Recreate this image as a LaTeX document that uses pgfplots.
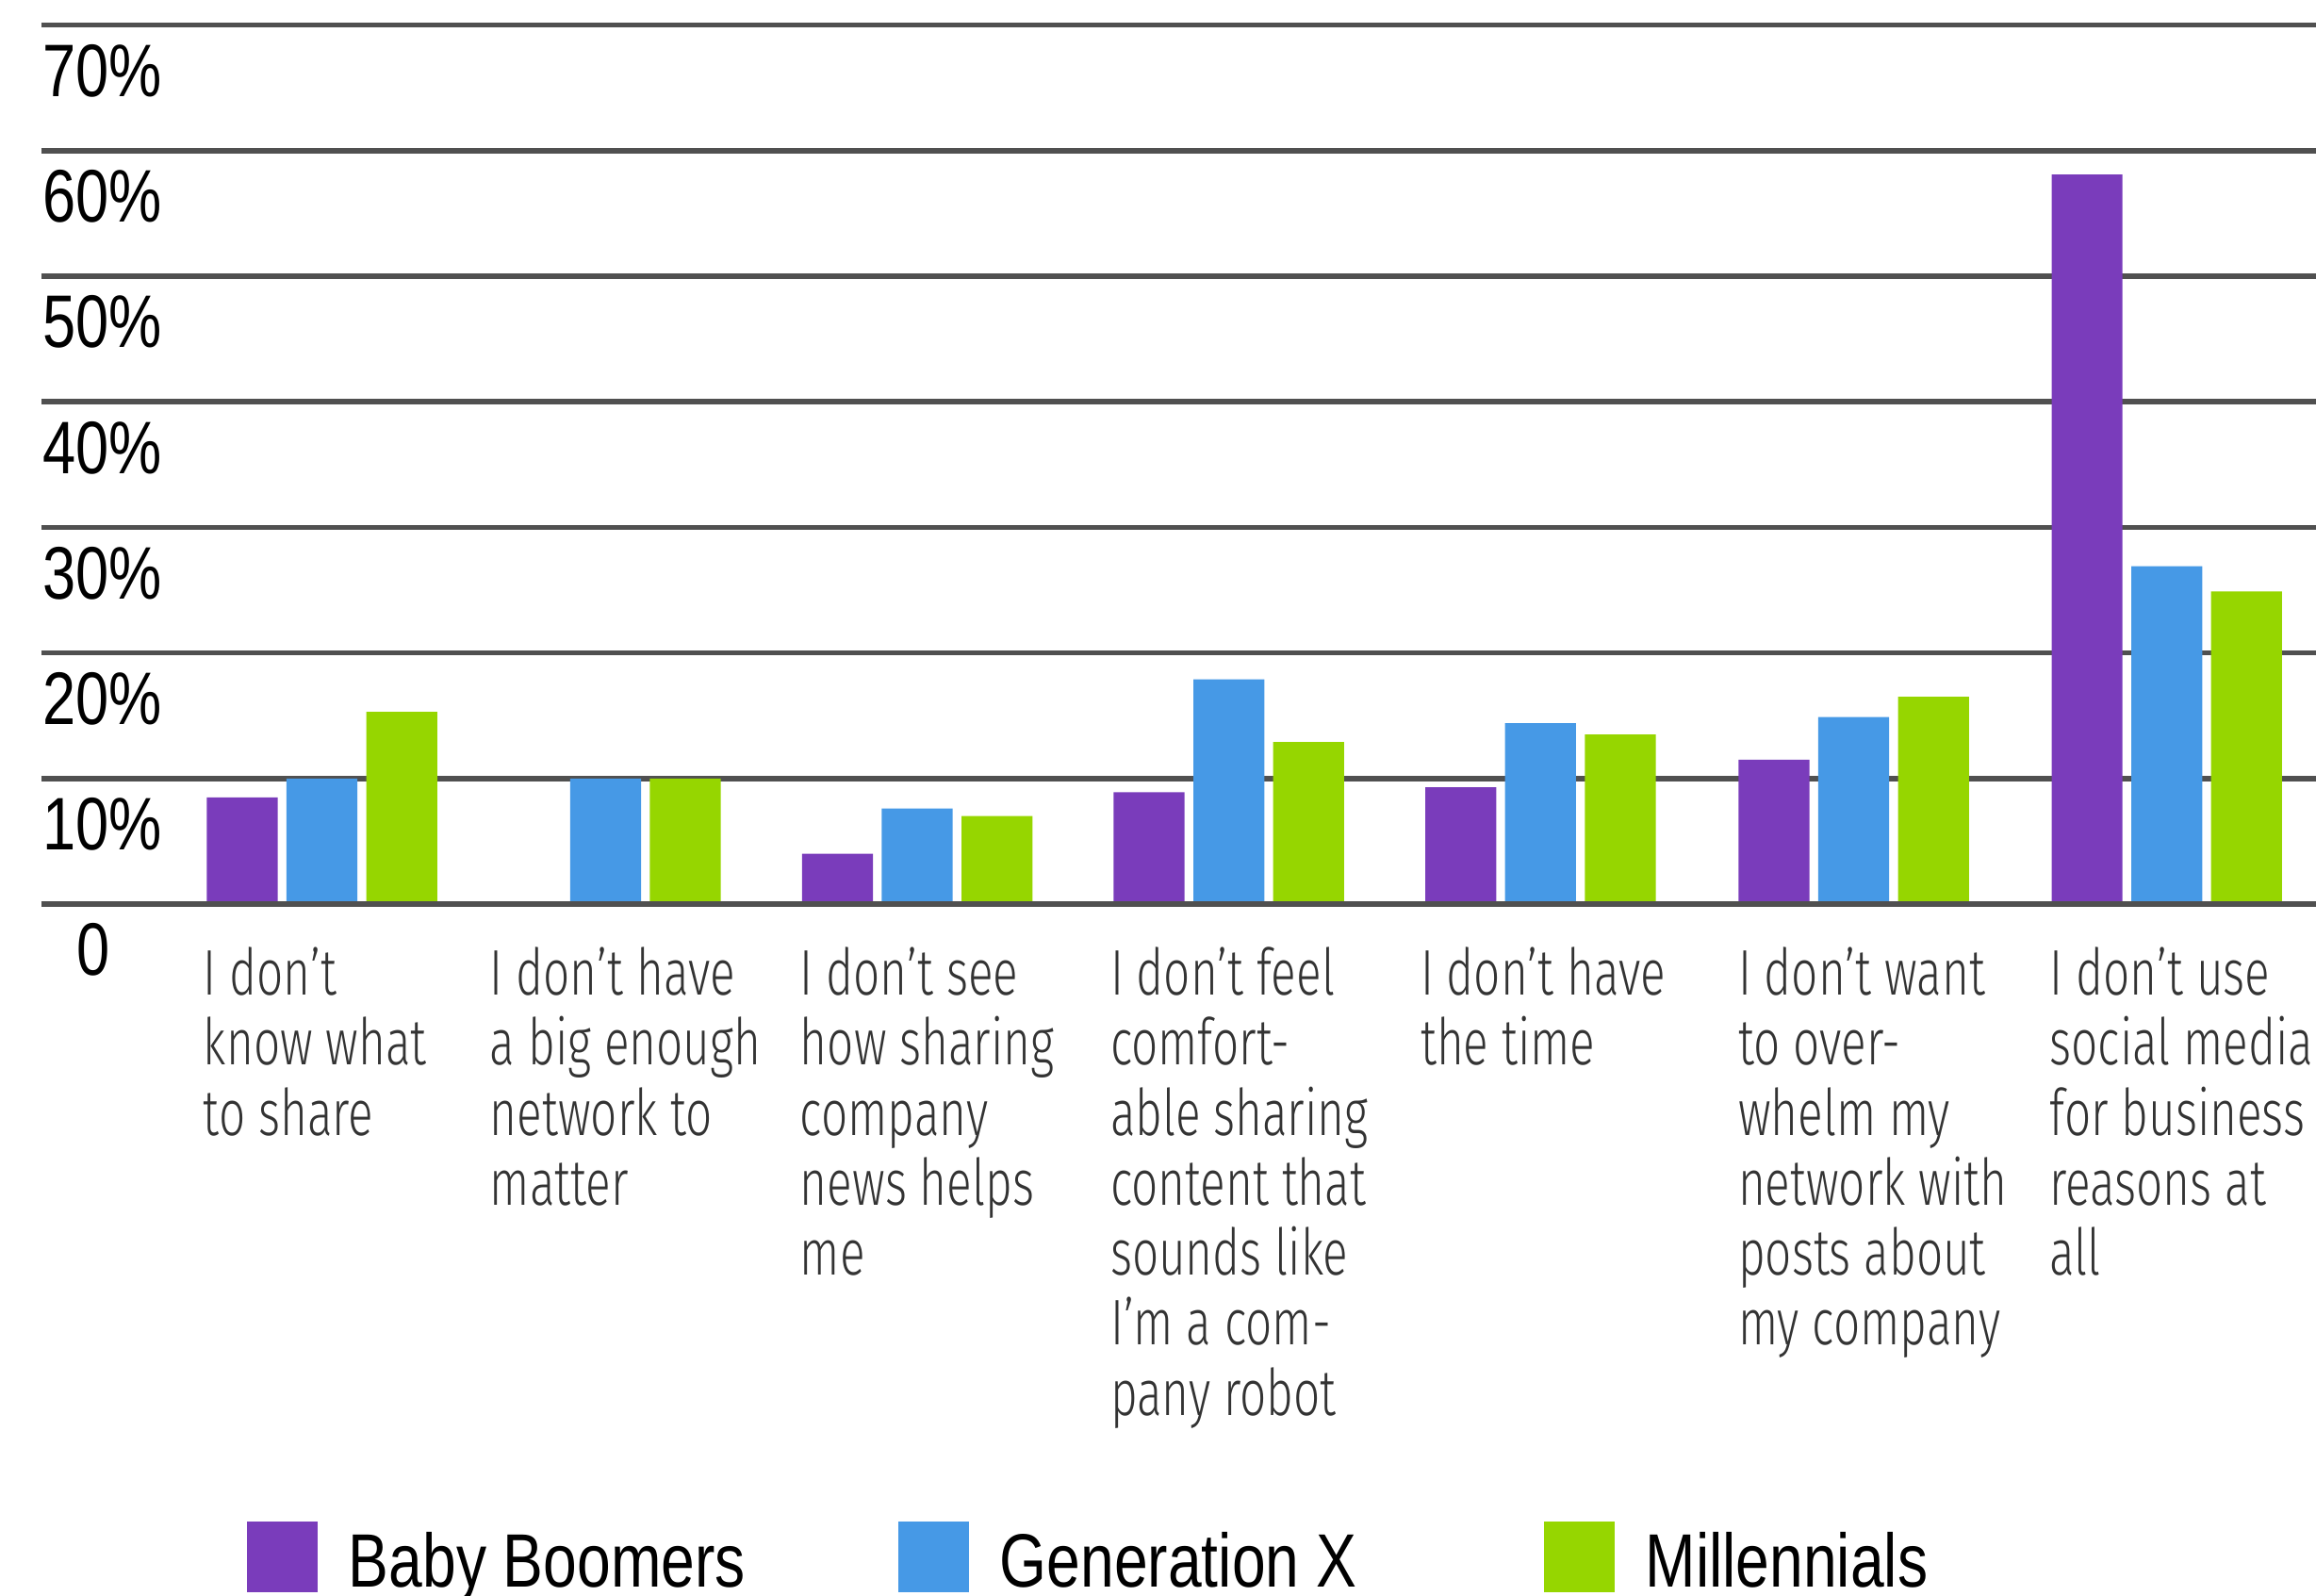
\documentclass[border=0pt]{standalone}
\usepackage{fontspec}
\setmainfont{Liberation Sans}[FakeStretch=0.80]
\newfontfamily\catfont{Fira Sans Light}[FakeStretch=0.725]
\usepackage{pgfplots}
\pgfplotsset{compat=1.18}
\definecolor{bb}{HTML}{7A3CBB}
\definecolor{gx}{HTML}{4699E6}
\definecolor{mil}{HTML}{96D600}
\definecolor{gridc}{HTML}{505050}
\definecolor{cattext}{HTML}{333333}
\pgfplotsset{sqlegend/.style={legend image code/.code={\fill[##1] (0pt,-4.8pt) rectangle (12pt,7.2pt);}}}
\begin{document}
\begin{tikzpicture}[x=0.25pt,y=0.25pt]
\useasboundingbox (0,0) rectangle (1568,1080);
\coordinate (O) at (28,468);
\begin{axis}[
  at={(O)}, anchor=south west,
  width=385pt, height=148.75pt, scale only axis,
  xmin=28, xmax=1568, ymin=0, ymax=70,
  axis line style={draw=none},
  ytick={0,10,...,70},
  yticklabels={\hspace{5.75pt}0,10\%,20\%,30\%,40\%,50\%,60\%,70\%},
  ymajorgrids, grid style={gridc, line width=0.9pt},
  major tick length=0pt,
  yticklabel style={anchor=base west, inner sep=0pt, yshift=-12.1pt, font=\fontsize{12.6}{14}\selectfont, text=black},
  xtick={137,331,541,751,961,1176,1387},
  xticklabels={
    {I don’t\\know what\\to share},
    {I don’t have\\a big enough\\network to\\matter},
    {I don’t see\\how sharing\\company\\news helps\\me},
    {I don’t feel\\comfort-\\able sharing\\content that\\sounds like\\I’m a com-\\pany robot},
    {I don’t have\\the time},
    {I don’t want\\to over-\\whelm my\\network with\\posts about\\my company},
    {I don’t use\\social media\\for business\\reasons at\\all}},
  xticklabel style={anchor=north west, align=left, inner sep=0pt, yshift=-7.1pt, font=\catfont\fontsize{10.9}{11.85}\selectfont, text=cattext},
  ybar, bar width=48,
  legend columns=3,
  legend cell align=left,
  legend style={at={(0.0903,-0.7025)}, anchor=north west, draw=none, fill=none, inner sep=0pt, outer sep=0pt,
    font=\fontsize{12.8}{14}\selectfont,
    /tikz/every even column/.append style={column sep=0pt},
    /tikz/every odd column/.append style={column sep=5.25pt},
    nodes={inner sep=0pt}},
  clip=false,
]
\addplot[fill=bb, draw=none, bar shift=0pt, sqlegend] coordinates {(164,8.5) (567,4.0) (778,8.9) (989,9.3) (1201,11.5) (1413,58.1)};
\addplot[fill=gx, draw=none, bar shift=0pt, sqlegend] coordinates {(218,10) (410,10) (621,7.6) (832,17.9) (1043,14.4) (1255,14.9) (1467,26.9)};
\addplot[fill=mil, draw=none, bar shift=0pt, sqlegend] coordinates {(272,15.3) (464,10) (675,7.0) (886,12.9) (1097,13.5) (1309,16.5) (1521,24.9)};
\legend{\makebox[93pt][l]{Baby Boomers},\makebox[92pt][l]{Generation X},Millennials}
\draw[gridc, line width=0.9pt] (axis cs:28,0) -- (axis cs:1568,0);
\end{axis}
\end{tikzpicture}
\end{document}
